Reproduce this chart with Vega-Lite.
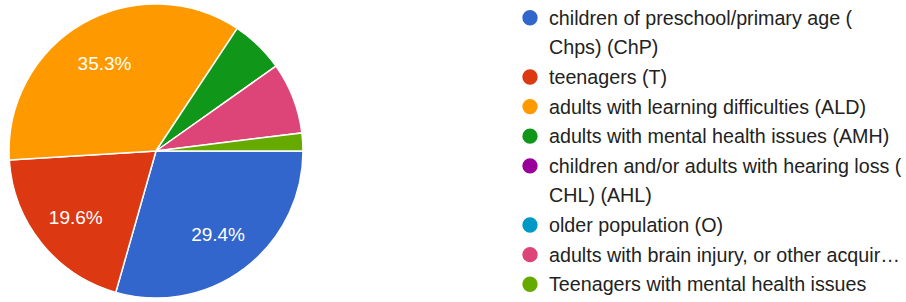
{
  "$schema": "https://vega.github.io/schema/vega-lite/v6.json",
  "padding": 0,
  "background": "white",
  "config": {"view": {"stroke": null}, "font": "Liberation Sans"},
  "data": {"values": [
    {"category": "children of preschool/primary age (\nChps) (ChP)", "count": 15},
    {"category": "teenagers (T)", "count": 10},
    {"category": "adults with learning difficulties (ALD)", "count": 18},
    {"category": "adults with mental health issues (AMH)", "count": 3},
    {"category": "children and/or adults with hearing loss (\nCHL) (AHL)", "count": 0},
    {"category": "older population (O)", "count": 0},
    {"category": "adults with brain injury, or other acquir…", "count": 4},
    {"category": "Teenagers with mental health issues", "count": 1}
  ]},
  "spacing": 208,
  "hconcat": [
    {
      "width": 312,
      "height": 302,
      "transform": [
        {"filter": "datum.count > 0"},
        {"window": [{"op": "row_number", "as": "rank"}]},
        {"joinaggregate": [{"op": "sum", "field": "count", "as": "total"}]},
        {"calculate": "datum.count / datum.total", "as": "share"}
      ],
      "encoding": {
        "theta": {"field": "count", "type": "quantitative", "stack": true, "scale": {"range": [1.5707963, 7.8539816]}},
        "order": {"field": "rank", "type": "quantitative"},
        "color": {
          "field": "category", "type": "nominal", "legend": null,
          "scale": {
            "domain": [
              "children of preschool/primary age (\nChps) (ChP)",
              "teenagers (T)",
              "adults with learning difficulties (ALD)",
              "adults with mental health issues (AMH)",
              "children and/or adults with hearing loss (\nCHL) (AHL)",
              "older population (O)",
              "adults with brain injury, or other acquir…",
              "Teenagers with mental health issues"
            ],
            "range": ["#3366cc", "#dc3912", "#ff9900", "#109618", "#990099", "#0099c6", "#dd4477", "#66aa00"]
          }
        }
      },
      "layer": [
        {"mark": {"type": "arc", "outerRadius": 147, "stroke": "white", "strokeWidth": 1.5}},
        {
          "mark": {"type": "text", "radius": 103, "fontSize": 19, "dy": 2},
          "encoding": {
            "text": {"condition": {"test": "datum.share < 0.1", "value": ""}, "field": "share", "type": "quantitative", "format": ".1%"},
            "color": {"value": "white"}
          }
        }
      ]
    },
    {
      "width": 20,
      "height": 302,
      "transform": [
        {"window": [{"op": "row_number", "as": "r"}]},
        {"calculate": "split(datum.category, '\\n')", "as": "lines"},
        {"flatten": ["lines"], "as": ["line"]},
        {"calculate": "datum.r * 10 + indexof(datum.lines, datum.line)", "as": "ord"}
      ],
      "encoding": {
        "y": {"field": "line", "type": "nominal", "sort": {"field": "ord", "op": "min", "order": "ascending"}, "axis": null, "scale": {"type": "point", "padding": 0.6}}
      },
      "layer": [
        {
          "transform": [{"filter": "datum.line == datum.lines[0]"}],
          "mark": {"type": "point", "filled": true, "size": 235, "opacity": 1},
          "encoding": {"color": {"field": "category", "type": "nominal", "legend": null}}
        },
        {
          "mark": {"type": "text", "align": "left", "dx": 19, "dy": 1, "fontSize": 19.7, "color": "#222222"},
          "encoding": {"text": {"field": "line", "type": "nominal"}}
        }
      ]
    }
  ]
}
